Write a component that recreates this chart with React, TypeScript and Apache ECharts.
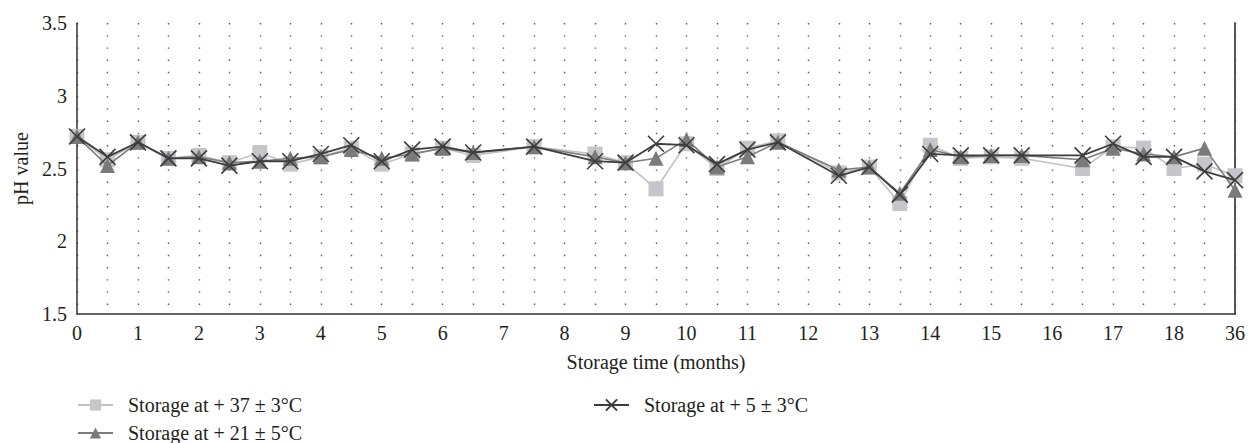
import React, { useEffect, useRef } from "react";
import * as echarts from "echarts";

const categories = [
  "0", "0.5", "1", "1.5", "2", "2.5", "3", "3.5", "4", "4.5",
  "5", "5.5", "6", "6.5", "7", "7.5", "8", "8.5", "9", "9.5",
  "10", "10.5", "11", "11.5", "12", "12.5", "13", "13.5", "14", "14.5",
  "15", "15.5", "16", "16.5", "17", "17.5", "18", "18.5", "36",
];

const storage37 = [
  2.72, 2.56, 2.68, 2.57, 2.59, 2.54, 2.61, 2.53, 2.58, 2.64,
  2.53, 2.6, 2.64, 2.59, null, 2.65, null, 2.6, 2.54, 2.36,
  2.67, 2.5, 2.64, 2.69, null, 2.47, 2.51, 2.26, 2.66, 2.57,
  2.58, 2.57, null, 2.5, 2.65, 2.64, 2.5, 2.53, 2.45,
];

const storage21 = [
  2.72, 2.52, 2.68, 2.57, 2.58, 2.54, 2.55, 2.57, 2.58, 2.63,
  2.57, 2.6, 2.64, 2.61, null, 2.65, null, 2.58, 2.54, 2.57,
  2.7, 2.51, 2.58, 2.68, null, 2.49, 2.51, 2.33, 2.63, 2.58,
  2.59, 2.59, null, 2.56, 2.64, 2.6, 2.58, 2.64, 2.35,
];

const storage5 = [
  2.72, 2.58, 2.68, 2.57, 2.57, 2.52, 2.55, 2.55, 2.6, 2.66,
  2.55, 2.63, 2.65, 2.61, null, 2.65, null, 2.55, 2.54, 2.67,
  2.66, 2.53, 2.63, 2.68, null, 2.45, 2.51, 2.32, 2.6, 2.59,
  2.59, 2.59, null, 2.59, 2.67, 2.58, 2.58, 2.48, 2.42,
];

const seriesNames = [
  "Storage at + 37 ± 3°C",
  "Storage at + 21 ± 5°C",
  "Storage at + 5 ± 3°C",
];

const FONT = "'Liberation Serif', 'DejaVu Serif', serif";
const CROSS = "path://M0,0L10,10M10,0L0,10";

export default function App() {
  const ref = useRef<HTMLDivElement>(null);

  useEffect(() => {
    if (!ref.current) return;
    const chart = echarts.init(ref.current, undefined, { renderer: "svg" });

    const legendBase = {
      orient: "horizontal",
      padding: 0,
      itemWidth: 35,
      itemHeight: 14,
      selectedMode: false,
      textStyle: {
        fontFamily: FONT,
        fontSize: 20,
        color: "#231f20",
        lineHeight: 20,
        padding: [0, 0, 0, 10],
      },
    };

    chart.setOption({
      animation: false,
      backgroundColor: "#ffffff",
      textStyle: { fontFamily: FONT },
      legend: [
        { ...legendBase, left: 77, top: 395, data: [seriesNames[0]] },
        { ...legendBase, left: 77, top: 423, data: [seriesNames[1]] },
        { ...legendBase, left: 593, top: 395, data: [seriesNames[2]] },
      ],
      grid: { left: 77, right: 15, top: 23, bottom: 129, containLabel: false },
      xAxis: {
        type: "category",
        data: categories,
        boundaryGap: false,
        name: "Storage time (months)",
        nameLocation: "middle",
        nameGap: 38,
        nameTextStyle: { fontFamily: FONT, fontSize: 20, color: "#231f20" },
        axisLine: { show: true, lineStyle: { color: "#333333", width: 1.5 } },
        axisTick: { show: false },
        axisLabel: {
          interval: 1,
          margin: 9,
          fontFamily: FONT,
          fontSize: 20,
          color: "#231f20",
        },
        splitLine: {
          show: true,
          interval: 0,
          lineStyle: { color: "#555555", width: 1.4, type: [1.4, 10.8] },
        },
      },
      yAxis: [
        {
          type: "value",
          min: 1.5,
          max: 3.5,
          interval: 0.5,
          name: "pH value",
          nameLocation: "middle",
          nameGap: 41,
          nameTextStyle: { fontFamily: FONT, fontSize: 20, color: "#231f20" },
          axisLine: { show: true, lineStyle: { color: "#333333", width: 1.5 } },
          axisTick: { show: false },
          axisLabel: { margin: 10, fontFamily: FONT, fontSize: 20, color: "#231f20" },
          splitLine: { show: false },
        },
        {
          type: "value",
          position: "right",
          min: 1.5,
          max: 3.5,
          interval: 0.5,
          axisLine: { show: true, lineStyle: { color: "#555555", width: 2 } },
          axisTick: { show: false },
          axisLabel: { show: false },
          splitLine: { show: false },
        },
      ],
      series: [
        {
          name: seriesNames[0],
          type: "line",
          data: storage37,
          connectNulls: true,
          symbol: "rect",
          symbolSize: 15,
          lineStyle: { color: "#c2c2c6", width: 1.6 },
          itemStyle: { color: "#c6c6ca" },
          z: 2,
        },
        {
          name: seriesNames[1],
          type: "line",
          data: storage21,
          connectNulls: true,
          symbol: "triangle",
          symbolSize: 15,
          lineStyle: { color: "#7d7d7d", width: 1.6 },
          itemStyle: { color: "#7a7a7a" },
          z: 3,
        },
        {
          name: seriesNames[2],
          type: "line",
          data: storage5,
          connectNulls: true,
          symbol: CROSS,
          symbolSize: 16,
          lineStyle: { color: "#3d3d3d", width: 1.8 },
          itemStyle: { color: "#3d3d3d", borderColor: "#3d3d3d", borderWidth: 1.6 },
          z: 4,
        },
      ],
    });

    return () => chart.dispose();
  }, []);

  return (
    <div
      ref={ref}
      style={{ position: "fixed", left: 0, top: 0, width: 1250, height: 443 }}
    />
  );
}
